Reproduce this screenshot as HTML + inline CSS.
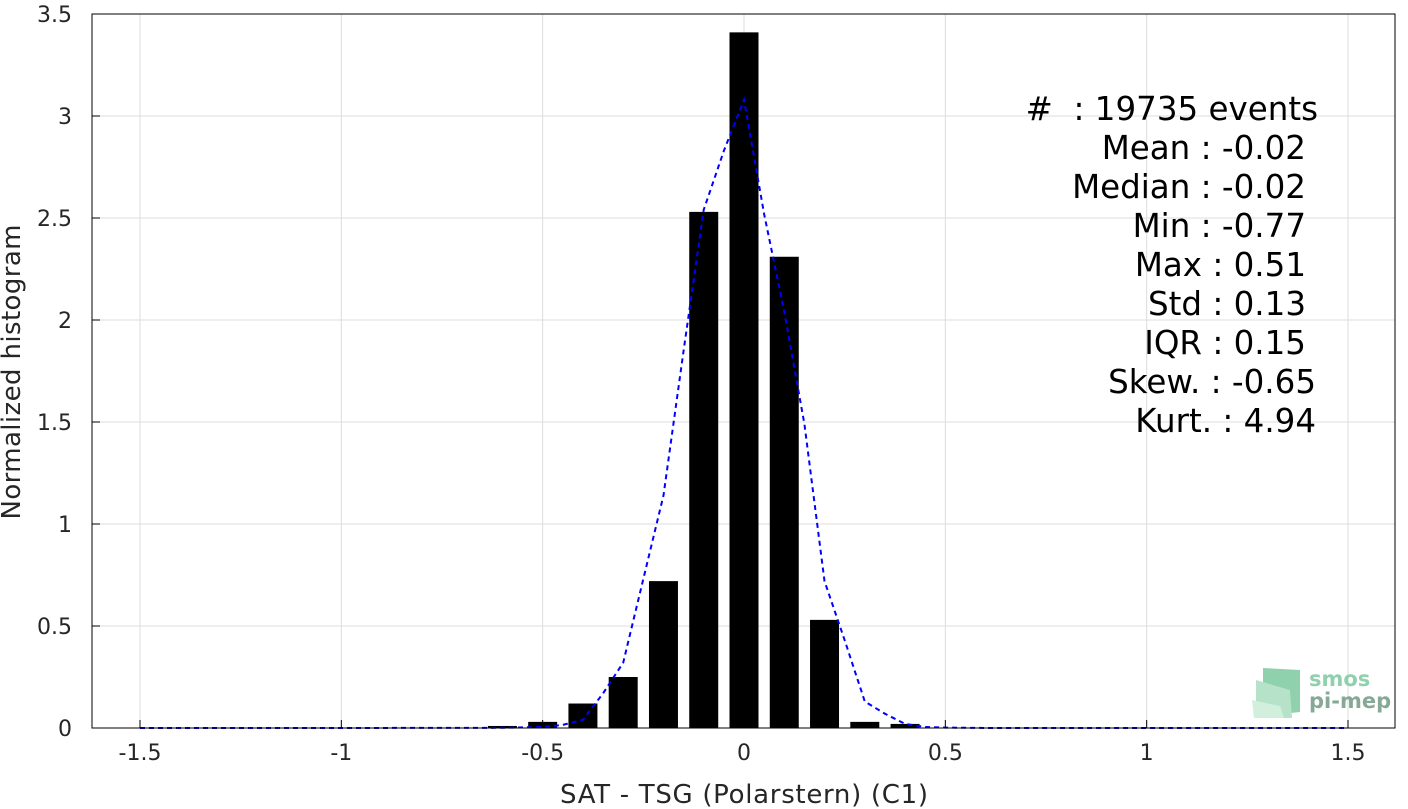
<!DOCTYPE html>
<html><head><meta charset="utf-8"><style>
body{margin:0;background:#fff;}
svg{display:block;font-family:"DejaVu Sans","Liberation Sans",sans-serif;}
</style></head><body>
<svg id="chart" width="1408" height="809">
<g id="grid"></g>
<g id="bars"></g>
<path id="pdf" fill="none" stroke="#0000ff" stroke-width="2" stroke-dasharray="5,4"/>
<rect x="92" y="14" width="1303" height="714" fill="none" stroke="#000" stroke-width="1"/>
<g id="ticks"></g>
<text x="744" y="803" font-size="26" text-anchor="middle" fill="#262626" textLength="368">SAT - TSG (Polarstern) (C1)</text>
<text transform="translate(20,372) rotate(-90)" font-size="26" text-anchor="middle" fill="#262626" textLength="295">Normalized histogram</text>
<g font-size="32.5" text-anchor="end" fill="#000">
<text x="1318" y="120" xml:space="preserve">#  : 19735 events</text>
<text x="1306" y="159">Mean : -0.02</text>
<text x="1306" y="198">Median : -0.02</text>
<text x="1306" y="237">Min : -0.77</text>
<text x="1306" y="276">Max : 0.51</text>
<text x="1306" y="315">Std : 0.13</text>
<text x="1306" y="354">IQR : 0.15</text>
<text x="1316" y="393">Skew. : -0.65</text>
<text x="1316" y="432">Kurt. : 4.94</text>
</g>
<g>
<polygon points="1263,668 1300,670 1300,712 1263,716" fill="#8fd0ad"/>
<polygon points="1256,680 1290,690 1292,718 1256,718" fill="#b5e2c8"/>
<polygon points="1252,700 1280,706 1284,718 1254,718" fill="#d2eedd"/>
<text x="1309" y="686" font-size="21" font-weight="bold" fill="#8fd0ad">smos</text>
<text x="1309" y="708" font-size="21" font-weight="bold" fill="#86a897">pi-mep</text>
</g>
</svg>
<script>
const xTicks=[-1.5,-1,-0.5,0,0.5,1,1.5];
const xTickLabels=["-1.5","-1","-0.5","0","0.5","1","1.5"];
const yTicks=[0,0.5,1,1.5,2,2.5,3,3.5];
const yTickLabels=["0","0.5","1","1.5","2","2.5","3","3.5"];
const binCenters=[-0.6,-0.5,-0.4,-0.3,-0.2,-0.1,0,0.1,0.2,0.3,0.4];
const binValues=[0.01,0.03,0.12,0.25,0.72,2.53,3.41,2.31,0.53,0.03,0.02];
const pdfX=[-1.5,-1.0,-0.6,-0.5,-0.45,-0.4,-0.35,-0.3,-0.25,-0.2,-0.15,-0.1,-0.05,0,0.05,0.1,0.15,0.2,0.25,0.3,0.35,0.4,0.45,0.5,0.6,1.0,1.5];
const pdfY=[0,0,0.001,0.005,0.015,0.04,0.17,0.32,0.73,1.14,1.85,2.54,2.83,3.08,2.52,2.04,1.49,0.72,0.43,0.13,0.07,0.02,0.005,0.002,0,0,0];
const X=v=>744+v*402.67, Y=v=>728-v*204;
const NS="http://www.w3.org/2000/svg";
function mk(t,a,p){const e=document.createElementNS(NS,t);for(const k in a)e.setAttribute(k,a[k]);p.appendChild(e);return e;}
const grid=document.getElementById('grid'),ticks=document.getElementById('ticks'),bars=document.getElementById('bars');
xTicks.forEach((v,i)=>{
 const l=mk('line',{x1:X(v),x2:X(v),y1:14,y2:728,stroke:'#dcdcdc'},grid);
 
 
 const t=mk('line',{x1:X(v),x2:X(v),y1:728,y2:720,stroke:'#000'},ticks);
 
 
 const tx=mk('text',{x:X(v),y:760,'font-size':22,'text-anchor':'middle',fill:'#262626'},ticks);
 tx.textContent=xTickLabels[i];
 
 
});
yTicks.forEach((v,i)=>{
 const l=mk('line',{x1:92,x2:1395,y1:Y(v),y2:Y(v),stroke:'#dcdcdc'},grid);
 
 
 const t=mk('line',{x1:92,x2:100,y1:Y(v),y2:Y(v),stroke:'#000'},ticks);
 
 
 const tx=mk('text',{x:72,y:Y(v)+8,'font-size':22,'text-anchor':'end',fill:'#262626'},ticks);
 tx.textContent=yTickLabels[i];
 
 
});
const bw=0.072*402.67;
binCenters.forEach((c,i)=>{
 const r=mk('rect',{x:X(c)-bw/2,y:Y(binValues[i]),width:bw,height:Y(0)-Y(binValues[i]),fill:'#000'},bars);
 
 
});
document.getElementById('pdf').setAttribute('d',pdfX.map((x,i)=>(i?'L':'M')+X(x).toFixed(1)+','+Y(pdfY[i]).toFixed(1)).join(''));
</script>
</body></html>
